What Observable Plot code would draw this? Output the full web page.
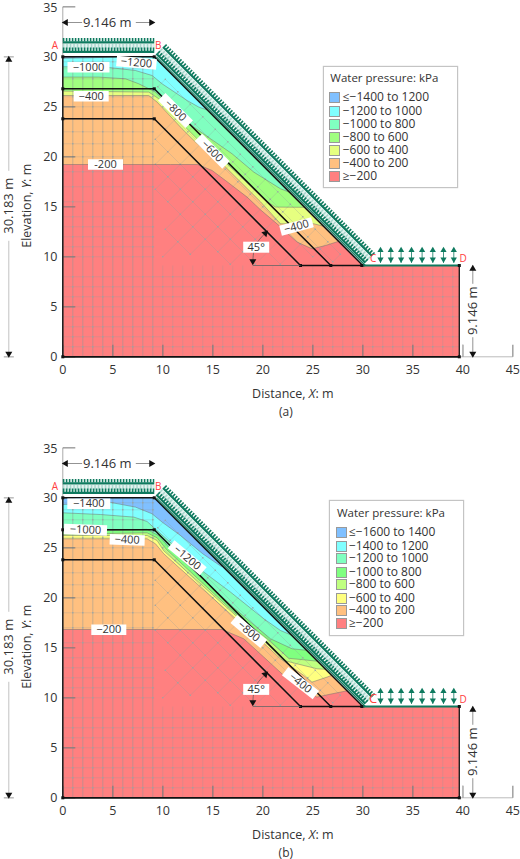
<!DOCTYPE html>
<html><head><meta charset="utf-8">
<script src="https://cdn.jsdelivr.net/npm/d3@7"></script>
<script src="https://cdn.jsdelivr.net/npm/@observablehq/plot@0.6"></script>
<style>
html,body{margin:0;background:#fff}
#wrap{position:relative;width:520px;height:859px;overflow:hidden;font-family:"Open Sans",sans-serif;color:#333}
svg{display:block;overflow:visible}
.lg{position:absolute;box-sizing:border-box;background:#fff;border:1px solid #c4c4c4;box-shadow:0 0 1px #bbb}
.lg span{position:absolute;white-space:nowrap;font-size:12px;line-height:12px}
.lg i{position:absolute;width:9px;height:9px;border:1px solid #999;box-sizing:content-box;display:block}
</style></head><body><div id="wrap"></div>
<script>
const xTicks=[0,5,10,15,20,25,30,35,40,45];
const yTicks=[0,5,10,15,20,25,30,35];
const domainOutline=[[0,0],[0,30],[9.146,30],[30,9.13],[39.65,9.13],[39.65,0]];
const crestClose=[[9.146,30],[0,30]];
const benchY=[30,26.8,23.8];
const footX=[30,26.8,23.77];
const toeArrowX=[31.77,32.8,33.83,34.87,35.93,37,38.07,39.1];

// panel (a) pressure contours, each closes up over the crest
const a200=[[0,19.23],[10.77,19.23],[13.5,19.23],[14.93,18.63],[16.27,17.63],[18.43,15.97],[19.77,14.7],[21.77,13],[23.43,11.47],[24.93,10.8],[26.27,11.13],[27.6,11.55]];
const a400=[[0,26.13],[8.6,26.13],[9.43,25.47],[11.93,22.8],[13.27,21.47],[16.27,18.97],[19.77,15.5],[21.77,13.3],[23.93,13.3],[25.1,13.3],[26.1,13.05]];
const a600=[[0,26.57],[8.6,26.47],[9.6,25.8],[12.1,23.13],[13.6,21.63],[16.6,19.13],[20.27,15.63],[21.27,14.97],[24.2,14.95]];
const a800=[[0,27.97],[3.6,27.97],[6.27,27.8],[7.6,27.3],[9.27,26.47],[9.93,25.8],[13.1,22.97],[16.93,20.3],[19.1,18.47],[21.77,16.8],[22.7,16.45]];
const a1000=[[0,29],[4.27,28.97],[7.27,28.63],[8.93,28.13],[9.93,27.3],[12.43,25.63],[13.6,24.97],[14.4,24.7]];
const a1200=[[0,29.85],[2.7,29.9],[5.4,30]];
// panel (b)
const b200=[[0,16.83],[15.93,16.83],[18.1,15.9],[20.1,14.07],[22.1,12.23],[25.4,10.07],[26.6,10.33],[28.43,10.7]];
const b400=[[0,25.9],[8.43,25.9],[9.27,25.4],[10.1,24.4],[17.1,18.07],[19.27,16.23],[21.77,13.9],[24.1,12.23],[24.9,11.56],[26.43,12.07],[26.9,12.25]];
const b600=[[0,26.23],[8.43,26.23],[9.43,25.73],[10.1,24.7],[17.1,18.4],[19.9,15.9],[22.1,13.73],[25.43,12.9],[26.3,12.85]];
const b800=[[0,26.35],[8.43,26.5],[9.43,26],[10.4,24.8],[17.1,18.57],[20.43,15.9],[22.6,13.95],[24.1,13.8],[25.5,13.65]];
const b1000=[[0,26.6],[8.43,26.85],[9.6,26.2],[10.6,25.05],[17.1,19],[20.77,15.9],[22.93,14.9],[24.4,14.75]];
const b1200=[[0,28.5],[3.77,28.33],[7.1,28.07],[8.43,27.63],[9.6,26.57],[14.1,22.57],[16.77,20.57],[20.1,17.9],[21.77,16.73],[22.9,16.25]];
const b1400=[[0,29.33],[4.6,29.57],[7.27,29.07],[8.93,28.4],[9.93,27.57],[11.77,26.23],[14,24.4],[15.9,23.1]];

const aColors=["#ffc080","#e6ff80","#a0ff80","#80ffc0","#80ffff","#80c0ff"];
const bColors=["#ffc080","#ffff80","#c0ff80","#80ff80","#80ffc0","#80ffff","#80c0ff"];
const redFill="#ff8080";

// contour labels: text, x, y, box width (m), rotation
const aLabels=[["−1000",2.57,28.96,4.2,0],["−1200",7.37,29.41,4,5],["−400",2.84,26.06,3.5,0],["−800",11.27,24.63,3.9,45],["−600",14.94,20.56,3.9,45],["-200",4.27,19.23,3.5,0],["−400",23.37,13.03,3.3,-15],["45°",19.34,10.96,2.6,0]];
const bLabels=[["−1400",2.6,29.4,4.3,0],["−1000",2.27,26.8,4.3,2],["−400",6.44,25.8,3.5,2],["−1200",12.44,24,4.2,40],["−800",18.6,16.63,3.9,40],["−400",23.77,11.46,3.9,38],["−200",4.6,16.8,3.5,0],["45°",19.34,10.84,2.6,0]];

const aLegend=["≤−1400 to 1200","−1200 to 1000","−1000 to 800","−800 to 600","−600 to 400","−400 to 200","≥−200"];
const bLegend=["≤−1600 to 1400","−1400 to 1200","−1200 to 1000","−1000 to 800","−800 to 600","−600 to 400","−400 to 200","≥−200"];
const aLegendY=[97,111.3,124,137,150,162.7,175.7];
const bLegendY=[532.3,546,557.7,571.7,584,597.7,610.3,623.3];

// mesh station lists
const meshLeftX=[1,2,3,4,5,6,7,8,9];
const meshLeftY=[10,11,12,13,14,15.5,17,18.5,20,21.3,22.5,23.8,25,26,26.8,27.8,28.8,29.5];
const meshLowY=[1,2,3,4,5,6,7,8];
const meshLowX=[1,2,3,4,5,6,7,8,9,10,11,12,13,14,15,16,17,18,19,20,21,22,23,24,25,26,27,28,29,30,31,32,33,34,35,36,37,38,39];
const meshU=[20,23,26,28.5,31,33,35,36.5,38];
const meshV=[20,17.5,15,12.5,10,7.5,5,2.5,0,-2.5,-5,-7.5,-10,-12.5,-15,-17.5,-20];

const X=d=>d[0],Y=d=>d[1];
const chain=(pts,o)=>Plot.line(pts,{x:X,y:Y,strokeLinecap:"butt",strokeLinejoin:"miter",...o});
const seg=(x1,y1,x2,y2,o)=>chain([[x1,y1],[x2,y2]],o);
const head=(x,y,rot)=>Plot.dot([[x,y]],{x:X,y:Y,symbol:"triangle",r:2.6,rotate:rot,fill:"#111"});
const RAD=Math.PI/180;
const GREEN="#0e7a5f";

function meshMarks(){
  const st={stroke:"#8d9a9a",strokeOpacity:.45,strokeWidth:.6};
  const m=[],nodes=[];
  meshLowY.forEach(y=>{m.push(seg(0,y,39.65,y,st));meshLowX.forEach(x=>nodes.push([x,y]));});
  meshLeftY.forEach(y=>{m.push(seg(0,y,9.146,y,st));meshLeftX.forEach(x=>nodes.push([x,y]));});
  meshLeftX.forEach(x=>m.push(seg(x,0,x,30,st)));
  meshLowX.forEach(x=>m.push(seg(x,0,x,x<10?30:9.13,st)));
  const inside=(u,v)=>{const x=(u-v)/2,y=(u+v)/2;return x>=9.146&&y>=9.13&&x+y<=39.15;};
  meshU.forEach(u=>{const p=meshV.filter(v=>inside(u,v)).map(v=>[(u-v)/2,(u+v)/2]);if(p.length){m.push(chain(p,st));nodes.push(...p);}});
  meshV.forEach(v=>{const p=meshU.filter(u=>inside(u,v)).map(u=>[(u-v)/2,(u+v)/2]);if(p.length)m.push(chain(p,st));});
  m.push(Plot.dot(nodes,{x:X,y:Y,r:.8,fill:"#9aa5a5"}));
  return m;
}

function loadMarks(){
  const S=[9.0,29.95],E=[29.9,9.05],k=Math.SQRT1_2;
  const sl=(d,o)=>seg(S[0]+d*k,S[1]+d*k,E[0]+d*k,E[1]+d*k,o);
  const top=(d,o)=>seg(0,30+d,9.146,30+d,o);
  const m=[];
  [top,sl].forEach(f=>{
    m.push(f(1.0,{stroke:"#e3f3f0",strokeWidth:5.5}));
    m.push(f(1.0,{stroke:"#a9d6cd",strokeWidth:5.5,strokeDasharray:"1.5,2"}));
    [0.5,1.45].forEach(d=>{
      m.push(f(d,{stroke:GREEN,strokeWidth:2.2}));
      m.push(f(d+.25,{stroke:GREEN,strokeWidth:3.6,strokeDasharray:"1.6,1.4"}));
    });
  });
  return m;
}

function panel(contours,colors,labels,cap,cFont){
  const h=cap==="(a)"?441:418;
  const fills=contours.map((c,i)=>chain([...c,...crestClose],{fill:colors[i],stroke:"none"}));
  const edges=contours.map(c=>chain(c,{stroke:"#6f6f6f",strokeOpacity:.7,strokeWidth:.7}));
  const black={stroke:"#111",strokeWidth:1.5};
  const svg=Plot.plot({
    width:520,height:h,marginLeft:62.3,marginRight:7.7,marginTop:6.3,marginBottom:h-356.3,
    x:{domain:[0,45],axis:null},y:{domain:[0,35],axis:null},
    style:{fontFamily:'"Open Sans",sans-serif',fontSize:"12.5px",color:"#333",background:"transparent",overflow:"visible"},
    marks:[
      seg(0,0,0,35,{stroke:"#aaa",strokeWidth:1}),
      seg(0,0,45,0,{stroke:"#bbb",strokeWidth:1}),
      chain([...domainOutline,domainOutline[0]],{fill:redFill,stroke:"none"}),
      ...fills,
      ...meshMarks(),
      ...edges,
      ...yTicks.map(t=>seg(0,t,1.25,t,{stroke:"#777",strokeOpacity:.7})),
      ...xTicks.map(t=>seg(t,0,t,1.2,{stroke:"#777",strokeOpacity:.7})),
      // slope geometry lines
      ...benchY.map((y,i)=>chain([[0,y],[9.146,y],[footX[i],9.13]],black)),
      seg(23.77,9.13,30.2,9.13,black),
      seg(9.35,30,30.25,9.13,{stroke:GREEN,strokeWidth:1.2}),
      seg(30,9.13,39.65,9.13,{stroke:GREEN,strokeWidth:2}),
      seg(0,0,0,30,{stroke:"#222",strokeWidth:1.6}),
      seg(0,0,39.65,0,{stroke:"#111",strokeWidth:1.8}),
      seg(39.65,0,39.65,9.13,{stroke:"#222",strokeWidth:1.4}),
      ...loadMarks(),
      // toe load arrows
      ...toeArrowX.flatMap(x=>[seg(x,9.4,x,10.8,{stroke:GREEN,strokeWidth:.8}),
        Plot.dot([[x,10.65]],{x:X,y:Y,symbol:"triangle",r:2.3,fill:GREEN}),
        Plot.dot([[x,9.75]],{x:X,y:Y,symbol:"triangle",r:2.3,rotate:180,fill:GREEN})]),
      Plot.dot([[0,30],[0,26.8],[0,23.8],[9.146,30],[9.146,26.8],[9.146,23.8],[23.77,9.13],[26.8,9.13],[29.9,9.13],[39.65,9.13],[39.65,0],[0,0]],
        {x:X,y:Y,symbol:"square",r:1.7,fill:"#111"}),
      // 45 degree annotation
      seg(19,9.13,23.77,9.13,{stroke:"#666",strokeWidth:.8}),
      chain([[19,9.3],[19.1,10.5],[19.5,11.5],[20.2,12.3]],{curve:"catmull-rom",stroke:"#555",strokeWidth:.7}),
      head(19,9.55,180),head(20.25,12.35,45),
      // contour label boxes and text
      ...labels.map(([t,x,y,w,r])=>{const dx=w/2*Math.cos(r*RAD),dy=w/2*Math.sin(r*RAD);
        return seg(x-dx,y+dy,x+dx,y-dy,{stroke:"#fff",strokeWidth:t==="45°"?11:10.5});}),
      ...labels.map(([t,x,y,w,r])=>Plot.text([[x,y]],{x:X,y:Y,text:()=>t,rotate:r,fontSize:11,fill:"#333"})),
      // dimension lines
      seg(0,33.43,1.93,33.43,{stroke:"#777",strokeWidth:.8}),seg(7.3,33.43,9.146,33.43,{stroke:"#777",strokeWidth:.8}),
      head(.3,33.43,-90),head(8.85,33.43,90),
      Plot.text(["9.146 m"],{x:4.45,y:33.43,text:d=>d,fontSize:13,fill:"#333"}),
      seg(-5.4,30,-5.4,18.6,{stroke:"#bbb",strokeWidth:.9}),seg(-5.4,11.6,-5.4,0,{stroke:"#bbb",strokeWidth:.9}),
      seg(-5.9,30,-4.9,30,{stroke:"#bbb"}),seg(-5.9,0,-4.9,0,{stroke:"#bbb"}),
      head(-5.4,29.7,0),head(-5.4,.3,180),
      Plot.text(["30.183 m"],{x:-5.4,y:15.1,text:d=>d,rotate:-90,fontSize:13,fill:"#333"}),
      Plot.text(["Elevation, Y: m"],{x:-3.6,y:15.1,text:d=>d,rotate:-90,fontSize:12.5,fill:"#333"}),
      seg(41,9.13,41,7.3,{stroke:"#777",strokeWidth:.8}),seg(41,1.96,41,0,{stroke:"#777",strokeWidth:.8}),
      seg(40,0,40,1.2,{stroke:"#bbb"}),
      head(41,8.8,0),head(41,.3,180),
      Plot.text(["9.146 m"],{x:41.05,y:4.6,text:d=>d,rotate:-90,fontSize:13,fill:"#333"}),
      // corner letters
      Plot.text([["A",-.8,31.1],["B",9.54,31.13],["C",31.04,9.85],["D",40.04,9.85]],
        {x:d=>d[1],y:d=>d[2],text:d=>d[0],fontSize:d=>(cFont&&d[0]==="C")?13:10,fontWeight:d=>(cFont&&d[0]==="C")?"bold":"normal",fill:"#ff4040"}),
      // axis numbers and titles
      Plot.text(xTicks,{x:d=>d,y:()=>-1.36,text:d=>String(d),fontSize:12.5,fill:"#333"}),
      Plot.text(yTicks,{x:()=>-.53,y:d=>d===35?34.93:d,text:d=>String(d),textAnchor:"end",fontSize:12.5,fill:"#333"}),
      Plot.text(["Distance, X: m"],{x:23,y:-3.7,text:d=>d,fontSize:12.5,fill:"#333"}),
      Plot.text([cap],{x:22.3,y:-5.5,text:d=>d,fontSize:12,fill:"#333"})
    ]
  });
  d3.select(svg).selectAll("text").each(function(){
    const s=this.textContent;
    if(s==="Distance, X: m")this.innerHTML='Distance, <tspan font-style="italic">X</tspan>: m';
    if(s==="Elevation, Y: m")this.innerHTML='Elevation, <tspan font-style="italic">Y</tspan>: m';
  });
  return svg;
}

function legend(box,titleX,titleY,swX,txtX,rowsY,names,cols){
  const d=document.createElement("div");d.className="lg";
  d.style.cssText=`left:${box[0]}px;top:${box[1]}px;width:${box[2]}px;height:${box[3]}px`;
  let h=`<span style="left:${titleX-box[0]}px;top:${titleY-box[1]-7}px;font-size:11.5px">Water pressure: kPa</span>`;
  names.forEach((n,i)=>{
    h+=`<i style="left:${swX-box[0]-1}px;top:${rowsY[i]-box[1]-6}px;background:${cols[i]}"></i>`;
    h+=`<span style="left:${txtX-box[0]-1}px;top:${rowsY[i]-box[1]-7}px">${n}</span>`;
  });
  d.innerHTML=h;return d;
}

const wrap=document.getElementById("wrap");
wrap.append(panel([a200,a400,a600,a800,a1000,a1200],aColors,aLabels,"(a)",false));
wrap.append(panel([b200,b400,b600,b800,b1000,b1200,b1400],bColors,bLabels,"(b)",true));
wrap.append(legend([323.3,65.7,135,122.5],329.3,78.3,329,342.7,aLegendY,aLegend,[...aColors].reverse().concat(redFill)));
wrap.append(legend([329.3,500,135,135.7],336,513.3,336,349,bLegendY,bLegend,[...bColors].reverse().concat(redFill)));
</script></body></html>
